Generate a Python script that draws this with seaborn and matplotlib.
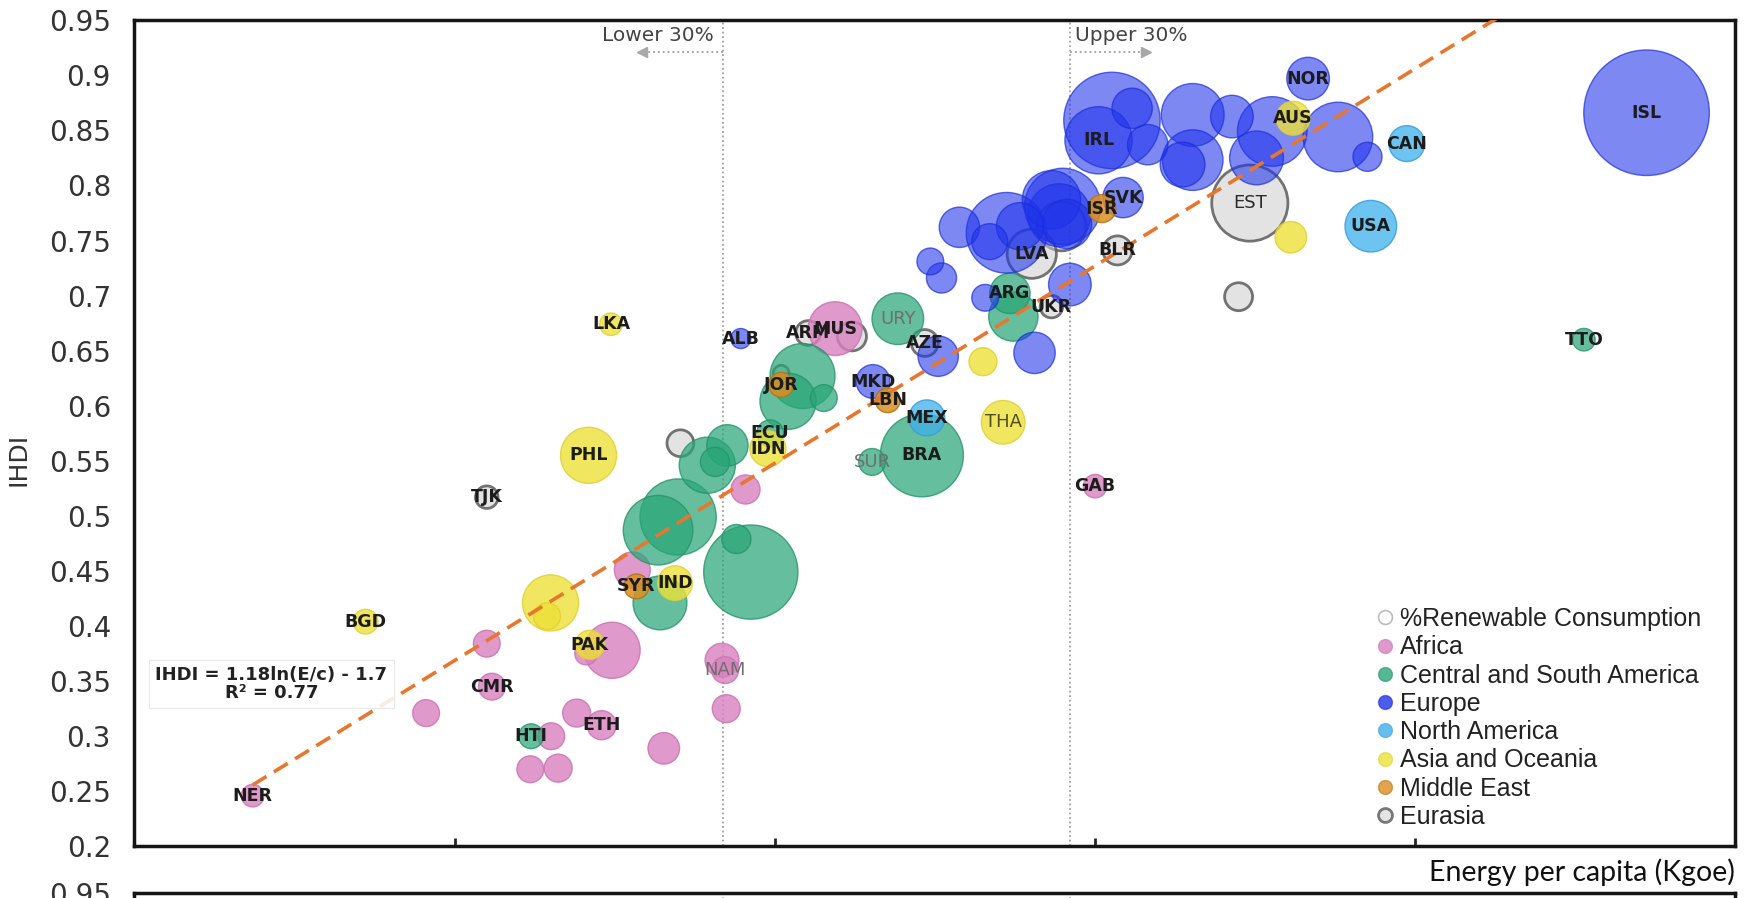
import numpy as np
import pandas as pd
import matplotlib
matplotlib.use("Agg")
import matplotlib.pyplot as plt
from matplotlib.lines import Line2D
from matplotlib.ticker import NullLocator
import seaborn as sns

sns.set_style("white")
plt.rcParams["font.family"] = ["Liberation Sans", "DejaVu Sans"]

# ---------------- data ----------------
# energy: energy per capita (kgoe), ihdi: inequality-adjusted HDI,
# renew: share of renewable consumption (%), drives bubble area
africa_code = ["NER", "", "CMR", "", "", "", "", "", "ETH", "", "", "", "", "", "NAM", "", "", "MUS", "GAB"]
africa_energy = [150, 272, 341, 335, 389, 428, 418, 456, 497, 615, 515, 471, 552, 751, 759, 762, 814, 1107, 2702]
africa_ihdi = [0.246, 0.321, 0.345, 0.384, 0.270, 0.271, 0.300, 0.321, 0.310, 0.289, 0.378, 0.375, 0.451,
               0.369, 0.360, 0.325, 0.524, 0.670, 0.527]
africa_renew = [2.4, 3.4, 3.4, 3.4, 3.4, 3.7, 3.4, 3.7, 4.0, 4.7, 14.9, 2.4, 6.1, 5.4, 3.4, 3.7, 4.0, 13.7, 2.6]

csa_code = ["HTI", "", "", "", "", "", "", "", "", "ECU", "", "", "", "URY", "ARG", "", "SUR", "BRA", "TTO"]
csa_energy = [390, 603, 646, 607, 829, 789, 714, 733, 765, 886, 990, 942, 1065, 1373, 2017, 2041, 1257, 1491, 14460]
csa_ihdi = [0.300, 0.487, 0.499, 0.421, 0.449, 0.479, 0.546, 0.549, 0.564, 0.575, 0.627, 0.604, 0.607,
            0.679, 0.702, 0.681, 0.549, 0.555, 0.660]
csa_renew = [2.9, 22.9, 27.5, 13.7, 42.0, 4.0, 14.9, 4.0, 8.1, 3.4, 20.0, 14.9, 3.4, 12.6, 7.7, 11.5, 3.4, 32.6, 2.4]

europe_code = ["ALB", "MKD", "", "", "", "", "", "", "", "", "", "", "", "", "", "",
               "SVK", "", "", "IRL", "", "", "", "", "", "", "", "", "", "NOR", "ISL"]
europe_energy = [801, 1261, 1577, 1535, 1595, 1853, 2195, 2478, 1696, 1994, 1882, 2088, 2417, 2389, 2454, 2326,
                 2974, 2863, 3068, 2734, 3237, 3777, 4321, 3777, 3648, 4962, 4702, 6217, 6881, 5612, 17930]
europe_ihdi = [0.661, 0.622, 0.645, 0.731, 0.716, 0.698, 0.648, 0.710, 0.762, 0.757, 0.749, 0.763, 0.781,
               0.773, 0.765, 0.787, 0.789, 0.859, 0.870, 0.841, 0.837, 0.864, 0.8625, 0.823, 0.819, 0.849,
               0.825, 0.844, 0.826, 0.897, 0.866]
europe_renew = [1.9, 5.4, 7.7, 3.4, 4.3, 3.4, 8.1, 8.6, 7.7, 30.8, 6.1, 10.5, 27.5, 18.7, 11.5, 16.1,
                7.7, 44.0, 7.7, 21.4, 7.7, 18.7, 8.6, 17.4, 9.5, 22.9, 13.7, 22.9, 4.0, 8.6, 74.6]

namerica_code = ["MEX", "CAN", "USA"]
namerica_energy = [1517, 7874, 6960]
namerica_ihdi = [0.589, 0.838, 0.763]
namerica_renew = [6.1, 6.1, 12.6]

asia_code = ["BGD", "LKA", "PHL", "", "", "PAK", "IND", "IDN", "", "THA", "AUS", ""]
asia_energy = [221, 513, 475, 417, 412, 477, 639, 879, 1839, 1971, 5330, 5289]
asia_ihdi = [0.404, 0.674, 0.555, 0.421, 0.409, 0.383, 0.439, 0.561, 0.640, 0.585, 0.861, 0.753]
asia_renew = [2.9, 2.4, 14.9, 14.9, 3.4, 4.0, 5.7, 6.1, 3.7, 9.0, 5.4, 4.7]

mideast_code = ["SYR", "JOR", "LBN", "ISR"]
mideast_energy = [560, 920, 1326, 2765]
mideast_ihdi = [0.436, 0.619, 0.605, 0.779]
mideast_renew = [2.9, 2.9, 2.9, 3.7]

eurasia_code = ["TJK", "", "", "ARM", "", "AZE", "LVA", "", "UKR", "BLR", "EST", ""]
eurasia_energy = [335, 651, 920, 1009, 1173, 1506, 2174, 2408, 2326, 2918, 4595, 4421]
eurasia_ihdi = [0.517, 0.566, 0.6295, 0.666, 0.663, 0.657, 0.738, 0.763, 0.690, 0.741, 0.784, 0.699]
eurasia_renew = [2.4, 3.4, 1.2, 2.9, 4.0, 3.4, 11.5, 11.5, 2.4, 4.0, 27.5, 3.7]

legend_names = ["Africa", "Central and South America", "Europe", "North America",
                "Asia and Oceania", "Middle East", "Eurasia"]
# Eurasia sits underneath the other groups
draw_order = ["Eurasia", "Africa", "Central and South America", "Europe", "North America",
              "Asia and Oceania", "Middle East"]

# log fit of IHDI against energy per capita
trend_slope = 0.163
trend_intercept = -0.561
trend_energy = [150, 12000]
trend_label = "IHDI = 1.18ln(E/c) - 1.7\nR\u00b2 = 0.77"

# energy-per-capita thresholds for the lower and upper 30% of countries
lower30_energy = 753
upper30_energy = 2483

y_ticks = [0.2, 0.25, 0.3, 0.35, 0.4, 0.45, 0.5, 0.55, 0.6, 0.65, 0.7, 0.75, 0.8, 0.85, 0.9, 0.95]
y_tick_labels = ["0.2", "0.25", "0.3", "0.35", "0.4", "0.45", "0.5", "0.55", "0.6", "0.65",
                 "0.7", "0.75", "0.8", "0.85", "0.9", "0.95"]
x_ticks = [300, 900, 2700, 8100]

# ---------------- table ----------------
parts = [
    ("Africa", africa_code, africa_energy, africa_ihdi, africa_renew),
    ("Central and South America", csa_code, csa_energy, csa_ihdi, csa_renew),
    ("Europe", europe_code, europe_energy, europe_ihdi, europe_renew),
    ("North America", namerica_code, namerica_energy, namerica_ihdi, namerica_renew),
    ("Asia and Oceania", asia_code, asia_energy, asia_ihdi, asia_renew),
    ("Middle East", mideast_code, mideast_energy, mideast_ihdi, mideast_renew),
    ("Eurasia", eurasia_code, eurasia_energy, eurasia_ihdi, eurasia_renew),
]
df = pd.concat([pd.DataFrame({"region": r, "code": c, "energy": e, "ihdi": h, "renew": s})
                for r, c, e, h, s in parts], ignore_index=True)

# per-region bubble styling: face rgba, edge rgba, edge width
styles = {
    "Africa": ((0.85, 0.50, 0.75, 0.80), (0.80, 0.45, 0.70, 0.85), 1.0),
    "Central and South America": ((0.16, 0.65, 0.47, 0.72), (0.14, 0.58, 0.42, 0.80), 1.0),
    "Europe": ((0.12, 0.20, 0.92, 0.58), (0.10, 0.18, 0.85, 0.70), 1.0),
    "North America": ((0.24, 0.69, 0.92, 0.75), (0.22, 0.62, 0.86, 0.85), 1.0),
    "Asia and Oceania": ((0.93, 0.88, 0.22, 0.80), (0.88, 0.82, 0.20, 0.85), 1.0),
    "Middle East": ((0.86, 0.56, 0.12, 0.85), (0.70, 0.45, 0.10, 0.90), 1.0),
    "Eurasia": ((0.80, 0.80, 0.80, 0.55), (0.36, 0.36, 0.36, 0.85), 2.0),
}

SIZE_RANGE = (0, 10950)
SIZE_NORM = (0, 100)
XLIM = (100, 24300)
YLIM = (0.2, 0.95)
WIDE = ["DejaVu Sans"]

fig = plt.figure(figsize=(17.58, 8.98), dpi=100)
ax = fig.add_axes([0.0765, 0.0575, 0.9105, 0.92])

for z, region in enumerate(draw_order):
    sub = df[df.region == region].sort_values("renew", ascending=False)
    n_before = len(ax.collections)
    sns.scatterplot(data=sub, x="energy", y="ihdi", size="renew", sizes=SIZE_RANGE,
                    size_norm=SIZE_NORM, legend=False, ax=ax, zorder=3 + z)
    coll = ax.collections[n_before]
    face, edge, lw = styles[region]
    coll.set_facecolor(face)
    coll.set_edgecolor(edge)
    coll.set_linewidth(lw)
    coll.set_alpha(None)
    coll.set_zorder(3 + z)

# country codes
soft_labels = {"URY": "#6f6f6f", "SUR": "#6f6f6f", "NAM": "#6f6f6f", "THA": "#4e4e22", "EST": "#2b2b2b"}
for _, row in df[df.code != ""].iterrows():
    if row.code in soft_labels:
        ax.text(row.energy, row.ihdi, row.code, ha="center", va="center", fontsize=13,
                family=WIDE, color=soft_labels[row.code], zorder=20)
    else:
        ax.text(row.energy, row.ihdi, row.code, ha="center", va="center", fontsize=12.5,
                family=WIDE, fontweight="bold", color="#1c1c1c", zorder=20)

# regression curve (straight on the log axis)
tx = np.array(trend_energy, dtype=float)
ty = trend_slope * np.log(tx) + trend_intercept
ax.plot(tx, ty, color="#e8772e", lw=2.6, dashes=(4.5, 2.4), zorder=15, solid_capstyle="butt")
ax.text(160, 0.3475, trend_label, ha="center", va="center", fontsize=13, fontweight="bold",
        family=WIDE, color="#222222", linespacing=1.0, zorder=16,
        bbox=dict(boxstyle="square,pad=0.35", fc="white", ec="#e6e6e6", lw=0.8, alpha=0.85))

# 30% thresholds
for xv in (lower30_energy, upper30_energy):
    ax.axvline(xv, color="#a0a0a0", ls=(0, (1, 1.5)), lw=1.3, zorder=2)
arrow_y = 0.9215
ax.plot([lower30_energy, 580], [arrow_y, arrow_y], color="#a8a8a8", ls=(0, (1, 1.5)), lw=1.4, zorder=2)
ax.plot([571], [arrow_y], marker="<", color="#a8a8a8", ms=7, zorder=2)
ax.plot([upper30_energy, 3150], [arrow_y, arrow_y], color="#a8a8a8", ls=(0, (1, 1.5)), lw=1.4, zorder=2)
ax.plot([3213], [arrow_y], marker=">", color="#a8a8a8", ms=7, zorder=2)
ax.text(731, 0.9365, "Lower 30%", ha="right", va="center", fontsize=14.5, family=WIDE, color="#444444")
ax.text(2520, 0.9365, "Upper 30%", ha="left", va="center", fontsize=14.5, family=WIDE, color="#444444")

# axes
ax.set_xscale("log")
ax.set_xlim(*XLIM)
ax.set_ylim(*YLIM)
ax.set_xticks(x_ticks)
ax.set_xticklabels([])
ax.xaxis.set_minor_locator(NullLocator())
ax.set_yticks(y_ticks)
ax.set_yticklabels(y_tick_labels, family=WIDE)
ax.tick_params(axis="y", direction="out", length=8, width=2, labelsize=20, labelcolor="#333333", pad=9)
ax.tick_params(axis="x", direction="in", length=6, width=2, bottom=True)
ax.set_xlabel("")
ax.set_ylabel("IHDI", fontsize=18, family=WIDE, color="#333333", va="center")
ax.yaxis.set_label_coords(-0.0725, 0.468)
for sp in ax.spines.values():
    sp.set_linewidth(2.5)
    sp.set_color("#151515")

# legend
handles = [Line2D([], [], ls="none", marker="o", ms=10, mfc="white", mec="#bdbdbd", mew=1.2)]
for region in legend_names:
    face, edge, lw = styles[region]
    if region == "Eurasia":
        handles.append(Line2D([], [], ls="none", marker="o", ms=10, mfc="#e4e4e4", mec="#777777", mew=2))
    else:
        handles.append(Line2D([], [], ls="none", marker="o", ms=10, mfc=face[:3] + (0.8,),
                              mec=edge[:3] + (0.6,), mew=1))
leg = ax.legend(handles, ["%Renewable Consumption"] + legend_names, loc="lower right",
                bbox_to_anchor=(0.9895, 0.0), frameon=False, fontsize=18, handletextpad=0.1,
                labelspacing=0.17, borderpad=0.2, handlelength=1.0)
for t in leg.get_texts():
    t.set_color("#222222")

# second panel peeking in at the bottom edge
ax2 = fig.add_axes([0.0765, -0.95, 0.9105, 0.9556])
ax2.set_xscale("log")
ax2.set_xlim(*XLIM)
ax2.set_ylim(*YLIM)
ax2.set_xticks([])
ax2.xaxis.set_minor_locator(NullLocator())
ax2.set_yticks([0.95])
ax2.set_yticklabels(["0.95"], family=WIDE)
ax2.tick_params(axis="y", direction="out", length=8, width=2, labelsize=20, labelcolor="#333333", pad=9)
for xv in (lower30_energy, upper30_energy):
    ax2.axvline(xv, color="#a0a0a0", ls=(0, (1, 1.5)), lw=1.3)
for sp in ax2.spines.values():
    sp.set_linewidth(2.5)
    sp.set_color("#151515")

fig.text(0.987, 0.029, "Energy per capita (Kgoe)", ha="right", va="center", fontsize=20.5,
         family=["Lato", "DejaVu Sans"], color="#111111")

fig.savefig("out.png", dpi=100)
